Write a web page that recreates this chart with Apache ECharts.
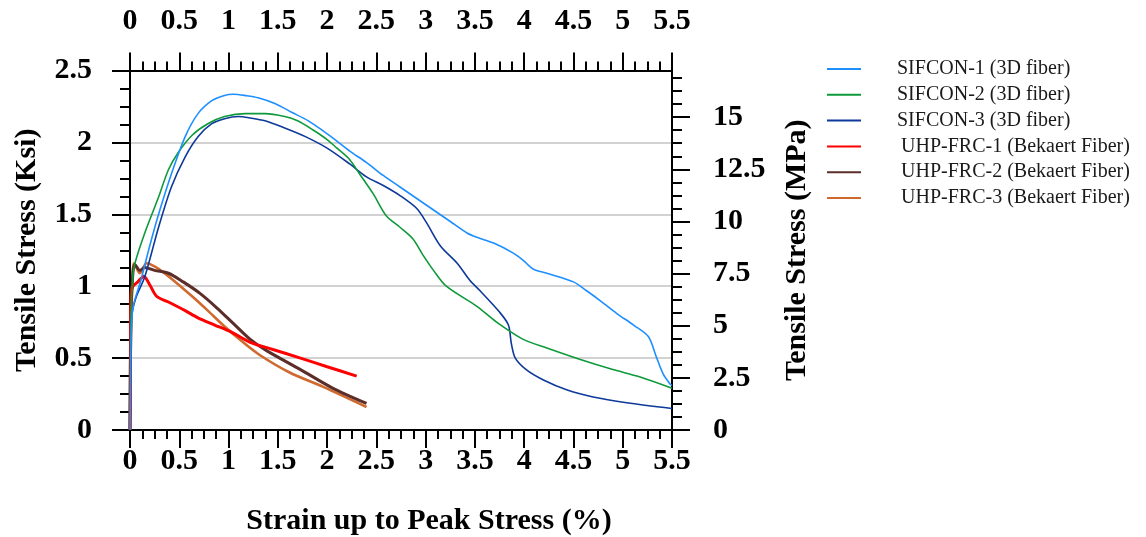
<!DOCTYPE html>
<html>
<head>
<meta charset="utf-8">
<script src="https://cdn.jsdelivr.net/npm/echarts@6/dist/echarts.min.js"></script>
<style>
  html, body { margin: 0; padding: 0; background: #fff; }
  #chart { width: 1146px; height: 537px; }
</style>
</head>
<body>
<div id="chart"></div>
<script>
// Tensile stress (ksi) versus strain (%) for SIFCON and UHP-FRC specimens
const seriesNames = [
  'SIFCON-1 (3D fiber)',
  'SIFCON-2 (3D fiber)',
  'SIFCON-3 (3D fiber)',
  'UHP-FRC-1 (Bekaert Fiber)',
  'UHP-FRC-2 (Bekaert Fiber)',
  'UHP-FRC-3 (Bekaert Fiber)'
];

// [strain %, stress ksi]
const sifcon1 = [[0,0],[0.005,0.3],[0.01,0.6],[0.03,0.85],[0.11,1.04],[0.2,1.28],[0.29,1.50],[0.42,1.78],[0.56,2.04],[0.69,2.20],[0.83,2.29],[0.95,2.325],[1.05,2.335],[1.18,2.325],[1.30,2.31],[1.47,2.27],[1.64,2.21],[1.81,2.15],[1.98,2.07],[2.06,2.03],[2.23,1.94],[2.40,1.86],[2.57,1.77],[2.74,1.69],[2.91,1.61],[3.08,1.53],[3.25,1.45],[3.42,1.37],[3.52,1.34],[3.69,1.30],[3.89,1.23],[3.99,1.18],[4.09,1.12],[4.23,1.09],[4.50,1.03],[4.63,0.97],[4.77,0.90],[4.94,0.81],[5.11,0.73],[5.26,0.65],[5.34,0.51],[5.41,0.39],[5.48,0.32],[5.50,0.31]];
const sifcon2 = [[0,0],[0.01,0.8],[0.03,1.08],[0.05,1.16],[0.15,1.37],[0.29,1.62],[0.39,1.81],[0.49,1.93],[0.63,2.05],[0.79,2.13],[0.96,2.18],[1.17,2.20],[1.37,2.20],[1.57,2.18],[1.70,2.15],[1.85,2.09],[2.00,2.02],[2.10,1.96],[2.23,1.88],[2.33,1.78],[2.47,1.64],[2.60,1.49],[2.74,1.41],[2.87,1.33],[2.97,1.22],[3.08,1.11],[3.21,1.00],[3.52,0.86],[3.72,0.75],[3.99,0.63],[4.23,0.57],[4.57,0.49],[4.90,0.42],[5.17,0.37],[5.50,0.29]];
const sifcon3 = [[0,0],[0.005,0.5],[0.015,0.78],[0.06,0.92],[0.15,1.065],[0.29,1.41],[0.42,1.69],[0.56,1.90],[0.69,2.04],[0.83,2.13],[0.96,2.165],[1.10,2.18],[1.22,2.17],[1.37,2.15],[1.57,2.10],[1.78,2.04],[2.00,1.96],[2.23,1.85],[2.40,1.76],[2.57,1.70],[2.74,1.63],[2.91,1.54],[3.01,1.44],[3.15,1.28],[3.32,1.16],[3.45,1.04],[3.55,0.97],[3.75,0.82],[3.84,0.73],[3.87,0.60],[3.91,0.50],[4.02,0.42],[4.19,0.35],[4.43,0.28],[4.70,0.23],[5.04,0.19],[5.50,0.15]];
const uhpfrc1 = [[0,0],[0.005,0.6],[0.01,0.95],[0.03,1.00],[0.08,1.03],[0.14,1.07],[0.20,1.01],[0.27,0.93],[0.39,0.89],[0.56,0.83],[0.69,0.78],[0.86,0.73],[1.03,0.68],[1.22,0.61],[1.45,0.56],[1.73,0.50],[2.00,0.44],[2.30,0.375]];
const uhpfrc2 = [[0,0],[0.01,0.8],[0.03,1.10],[0.05,1.15],[0.10,1.11],[0.15,1.13],[0.25,1.11],[0.39,1.09],[0.54,1.03],[0.71,0.95],[0.88,0.85],[1.05,0.74],[1.22,0.63],[1.39,0.55],[1.73,0.42],[2.06,0.29],[2.40,0.185]];
const uhpfrc3 = [[0,0],[0.01,0.7],[0.03,1.12],[0.04,1.16],[0.10,1.09],[0.17,1.16],[0.29,1.12],[0.46,1.03],[0.63,0.93],[0.79,0.83],[0.96,0.72],[1.13,0.62],[1.32,0.52],[1.62,0.40],[1.96,0.30],[2.40,0.16]];

const seriesData = [sifcon1, sifcon2, sifcon3, uhpfrc1, uhpfrc2, uhpfrc3];
const seriesColors = ['#1E8FFF', '#0E9A3A', '#0D399B', '#FF0000', '#5C2E2A', '#D0692E'];
const seriesWidths = [1.6, 1.6, 1.6, 3, 3, 2.6];

// Axis ranges and tick steps
const strainMax = 5.5, strainStep = 0.5;
const ksiMax = 2.5, ksiStep = 0.5;
const KSI_TO_MPA = 6.89476;
const mpaStep = 2.5;
const mpaTicks = [0, 2.5, 5, 7.5, 10, 12.5, 15];

const serif = '"Liberation Serif", "Times New Roman", serif';
const boldLabel = { fontFamily: serif, fontWeight: 'bold', fontSize: 30, color: '#000' };
const axisLineStyle = { color: '#000', width: 2 };

const chart = echarts.init(document.getElementById('chart'), null, { renderer: 'canvas' });

const xAxisBase = {
  type: 'value', min: 0, max: strainMax, interval: strainStep,
  axisLine: { show: true, onZero: false, lineStyle: axisLineStyle },
  axisTick: { show: true, inside: false, length: 18, lineStyle: { color: '#000', width: 2 } },
  minorTick: { show: true, splitNumber: 4, length: 9, lineStyle: { color: '#000', width: 2 } },
  splitLine: { show: false },
  minorSplitLine: { show: false }
};

chart.setOption({
  animation: false,
  backgroundColor: '#fff',
  grid: { left: 130, right: 474, top: 70.5, bottom: 107, containLabel: false, outerBoundsMode: 'none' },
  legend: {
    orient: 'vertical',
    left: 822, top: 54,
    itemWidth: 34, itemHeight: 14, itemGap: 5.8,
    lineStyle: { width: 2 },
    textStyle: { fontFamily: serif, fontSize: 20, color: '#1a1a1a', lineHeight: 20 },
    data: seriesNames.map((n, i) => ({
      name: n,
      icon: 'path://M0,0 L34,0 L34,2 L0,2 Z',
      textStyle: { padding: [0, 0, 0, i < 3 ? 31 : 35] }
    }))
  },
  xAxis: [
    Object.assign({}, xAxisBase, {
      position: 'bottom',
      axisLabel: Object.assign({ margin: 16 }, boldLabel),
      name: 'Strain up to Peak Stress (%)',
      nameLocation: 'middle', nameGap: 76,
      nameTextStyle: { fontFamily: serif, fontWeight: 'bold', fontSize: 30, color: '#000', padding: [0, 0, 0, 56] }
    }),
    Object.assign({}, xAxisBase, {
      position: 'top',
      axisLabel: Object.assign({ margin: 34 }, boldLabel)
    })
  ],
  yAxis: [
    {
      type: 'value', min: 0, max: ksiMax, interval: ksiStep, position: 'left',
      axisLine: { show: true, onZero: false, lineStyle: axisLineStyle },
      axisTick: { show: true, inside: false, length: 18, lineStyle: { color: '#000', width: 2 } },
      minorTick: { show: true, splitNumber: 4, length: 10, lineStyle: { color: '#000', width: 2 } },
      axisLabel: Object.assign({ margin: 38 }, boldLabel),
      splitLine: { show: true, lineStyle: { color: '#d2d2d2', width: 2 } },
      name: 'Tensile Stress (Ksi)',
      nameLocation: 'middle', nameGap: 88, nameRotate: 90,
      nameTextStyle: { fontFamily: serif, fontWeight: 'bold', fontSize: 30, color: '#000' }
    },
    {
      type: 'value', min: 0, max: ksiMax * KSI_TO_MPA, interval: mpaStep, position: 'right',
      axisLine: { show: true, onZero: false, lineStyle: axisLineStyle },
      axisTick: { show: true, inside: false, length: 18, customValues: mpaTicks, lineStyle: { color: '#000', width: 2 } },
      minorTick: { show: true, splitNumber: 4, length: 10, lineStyle: { color: '#000', width: 2 } },
      axisLabel: Object.assign({ margin: 41, customValues: mpaTicks }, boldLabel),
      splitLine: { show: false },
      name: 'Tensile Stress (MPa)',
      nameLocation: 'middle', nameGap: 110, nameRotate: 90,
      nameTextStyle: { fontFamily: serif, fontWeight: 'bold', fontSize: 30, color: '#000' }
    }
  ],
  series: seriesNames.map((n, i) => ({
    name: n,
    type: 'line',
    xAxisIndex: 0, yAxisIndex: 0,
    data: seriesData[i],
    showSymbol: false, symbol: 'none',
    smooth: 0.3,
    color: seriesColors[i],
    lineStyle: { color: seriesColors[i], width: seriesWidths[i] },
    z: 3 + (5 - i)
  }))
});
</script>
</body>
</html>
